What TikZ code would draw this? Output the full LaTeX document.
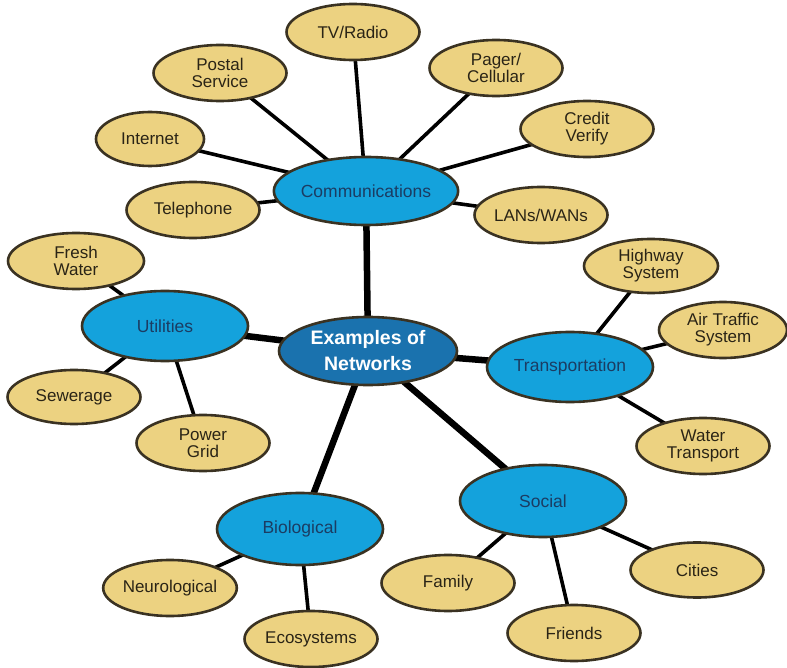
\documentclass[tikz,border=0pt]{standalone}
\usepackage{fontspec}
\setmainfont{Liberation Sans}
\usetikzlibrary{shapes.geometric,backgrounds}
\definecolor{catblue}{HTML}{14A2DC}
\definecolor{hubblue}{HTML}{1A72AE}
\definecolor{leafyel}{HTML}{ECD281}
\definecolor{rim}{HTML}{3A3222}
\definecolor{navytxt}{HTML}{1B3C63}
\definecolor{leaftxt}{HTML}{2A2416}
\begin{document}
\begin{tikzpicture}[x=1pt,y=-1pt,
  oval/.style={ellipse,draw=rim,line width=2.6pt,inner sep=0pt,outer sep=0pt,align=center},
  leaf/.style={oval,fill=leafyel,text=leaftxt,font=\fontsize{17}{17}\selectfont,minimum width=133pt,minimum height=56pt},
  cat/.style={oval,fill=catblue,text=navytxt,font=\fontsize{17.5}{18}\selectfont,minimum width=166pt,minimum height=70pt},
  hub/.style={oval,fill=hubblue,text=white,font=\bfseries\fontsize{19.5}{26}\selectfont,minimum width=178pt,minimum height=68pt},
  thin/.style={draw=black,line width=3.6pt},
  thick/.style={draw=black,line width=6.5pt}]
\useasboundingbox (0,0) rectangle (787,668);
% hub and categories
\node[hub] (hub) at (368,351) {Examples of\\Networks};
\node[cat,minimum width=164pt,minimum height=68pt] (comm) at (366,191) {Communications};
\node[cat] (util) at (165,326) {Utilities};
\node[cat] (trans) at (570,367) {Transportation};
\node[cat,minimum height=72pt] (soc) at (543,501) {Social};
\node[cat,minimum height=72pt] (bio) at (300,529) {Biological};
% communication leaves
\node[leaf] (tv) at (353,32) {TV/Radio};
\node[leaf] (postal) at (220,73) {Postal\\Service};
\node[leaf,minimum width=108pt,minimum height=54pt] (inet) at (150,139) {Internet};
\node[leaf] (tel) at (193,210) {Telephone};
\node[leaf] (pager) at (496,68) {Pager/\\Cellular};
\node[leaf] (credit) at (587,129) {Credit\\Verify};
\node[leaf] (lan) at (541,215) {LANs/WANs};
% utilities leaves
\node[leaf,minimum width=136pt] (fresh) at (76,261) {Fresh\\Water};
\node[leaf,minimum height=54pt] (sew) at (74,397) {Sewerage};
\node[leaf] (power) at (203,443) {Power\\Grid};
% transportation leaves
\node[leaf,minimum width=134pt,minimum height=54pt] (hwy) at (651,266) {Highway\\System};
\node[leaf,minimum width=128pt] (air) at (723,330) {Air Traffic\\System};
\node[leaf] (water) at (703,446) {Water\\Transport};
% social leaves
\node[leaf] (family) at (448,583) {Family};
\node[leaf] (friends) at (574,633) {Friends};
\node[leaf,minimum height=55pt] (cities) at (697,570) {Cities};
% biological leaves
\node[leaf] (neuro) at (170,588) {Neurological};
\node[leaf] (eco) at (311,639) {Ecosystems};
\begin{scope}[on background layer]
  \foreach \c in {comm,util,trans,soc,bio}
    \draw[thick] (hub.center) -- (\c.center);
  \foreach \l in {tv,postal,inet,tel,pager,credit,lan}
    \draw[thin] (comm.center) -- (\l.center);
  \foreach \l in {fresh,sew,power}
    \draw[thin] (util.center) -- (\l.center);
  \foreach \l in {hwy,air,water}
    \draw[thin] (trans.center) -- (\l.center);
  \foreach \l in {family,friends,cities}
    \draw[thin] (soc.center) -- (\l.center);
  \foreach \l in {neuro,eco}
    \draw[thin] (bio.center) -- (\l.center);
\end{scope}
\end{tikzpicture}
\end{document}
